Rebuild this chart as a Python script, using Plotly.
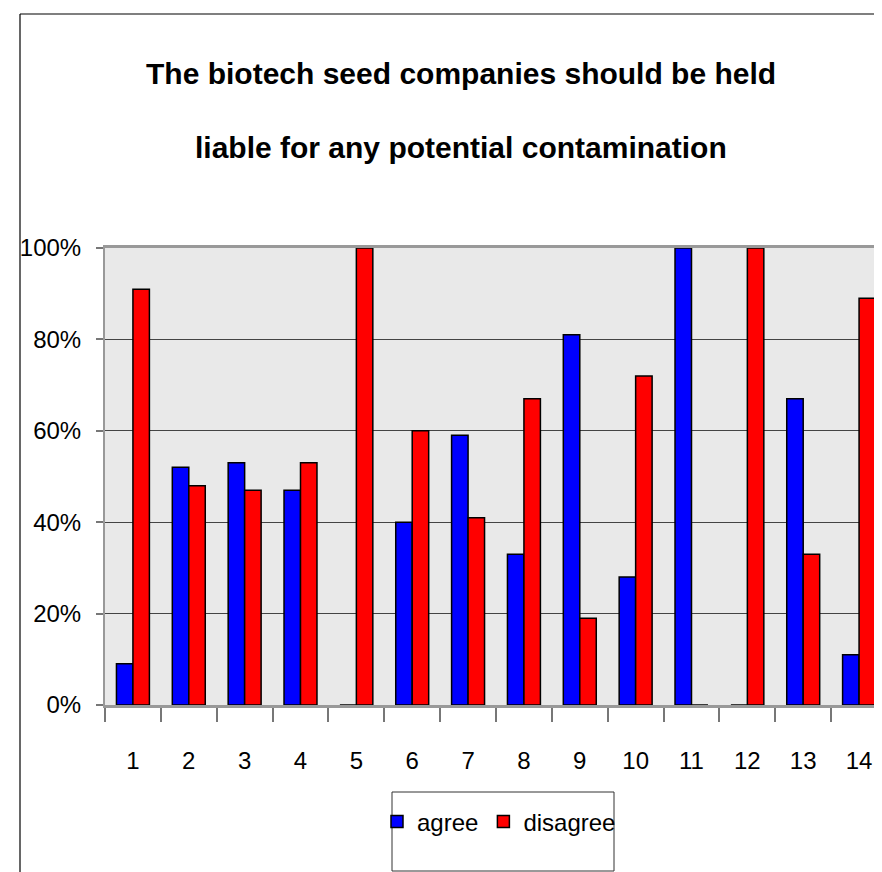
import plotly.graph_objects as go

categories = [str(i) for i in range(1, 15)]
agree = [0.09, 0.52, 0.53, 0.47, 0.0, 0.40, 0.59, 0.33, 0.81, 0.28, 1.0, 0.0, 0.67, 0.11]
disagree = [0.91, 0.48, 0.47, 0.53, 1.0, 0.60, 0.41, 0.67, 0.19, 0.72, 0.0, 1.0, 0.33, 0.89]
title_lines = ["The biotech seed companies should be held",
               "liable for any potential contamination"]

FONT = "Liberation Sans, Arial, sans-serif"

W, H = 882, 872
L, R, T, B = 97, 879, 240, 697  # plot area pixel bounds

def px(xp):
    return (xp - L) / (R - L)

def py(yp):
    return (B - yp) / (B - T)

fig = go.Figure()
fig.add_trace(go.Bar(x=categories, y=agree, name="agree",
                     marker=dict(color="#0000FF", line=dict(color="black", width=1.5))))
fig.add_trace(go.Bar(x=categories, y=disagree, name="disagree",
                     marker=dict(color="#FF0000", line=dict(color="black", width=1.5))))

fig.update_layout(
    width=W, height=H,
    margin=dict(l=L, r=W - R, t=T, b=H - B, autoexpand=False),
    paper_bgcolor="white",
    plot_bgcolor="#e9e9e9",
    barmode="group",
    bargap=0.41,
    bargroupgap=0,
    font=dict(family=FONT, color="black", size=24),
    showlegend=True,
    legend=dict(orientation="h", x=px(491), xanchor="center", y=py(814), yanchor="middle",
                bgcolor="rgba(0,0,0,0)", borderwidth=0,
                font=dict(family=FONT, size=24, color="black"),
                traceorder="normal"),
)

fig.update_xaxes(
    type="category",
    showline=True, linecolor="#999999", linewidth=2.5, mirror=True,
    ticks="outside", ticklen=14, tickcolor="#777777", tickwidth=1.5,
    tickson="boundaries",
    ticklabelstandoff=32,
    tickfont=dict(family=FONT, size=24, color="black"),
    showgrid=False,
)
fig.update_yaxes(
    range=[0, 1], dtick=0.2, tickformat=".0%",
    showline=True, linecolor="#999999", linewidth=2, mirror=True,
    ticks="outside", ticklen=7, tickcolor="#777777", tickwidth=1.5,
    ticklabelstandoff=10,
    showgrid=True, gridcolor="#444444", gridwidth=1,
    zeroline=False,
    tickfont=dict(family=FONT, size=24, color="black"),
)

for txt, yc in zip(title_lines, [65, 139]):
    fig.add_annotation(text="<b>" + txt + "</b>", xref="paper", yref="paper",
                       x=px(453), y=py(yc), xanchor="center", yanchor="middle",
                       showarrow=False, font=dict(family=FONT, size=30, color="black"))

# legend box
fig.add_shape(type="rect", xref="paper", yref="paper",
              x0=px(384), x1=px(606), y0=py(784), y1=py(863),
              line=dict(color="#333333", width=1), fillcolor="rgba(0,0,0,0)")
# outer frame (left and top edges)
fig.add_shape(type="line", xref="paper", yref="paper",
              x0=px(12), x1=px(900), y0=py(6), y1=py(6), line=dict(color="black", width=1.2))
fig.add_shape(type="line", xref="paper", yref="paper",
              x0=px(12), x1=px(12), y0=py(6), y1=py(900), line=dict(color="black", width=1.2))

fig.write_html("out.html")
